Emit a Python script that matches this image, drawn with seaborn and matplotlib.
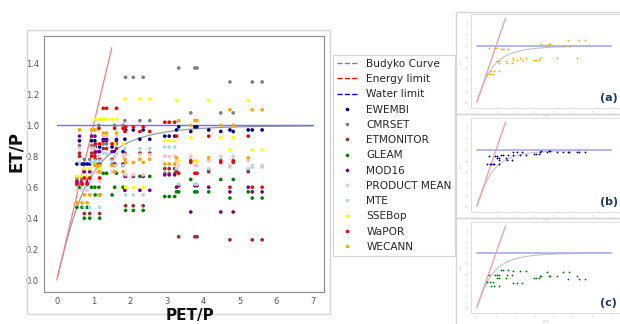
import numpy as np
import pandas as pd
import matplotlib
matplotlib.use("Agg")
import matplotlib.pyplot as plt
import seaborn as sns
from matplotlib.lines import Line2D
from matplotlib.patches import Rectangle
from matplotlib import font_manager

# ---------------- data ----------------
products = ["EWEMBI", "CMRSET", "ETMONITOR", "GLEAM", "MOD16",
            "PRODUCT MEAN", "MTE", "SSEBop", "WaPOR", "WECANN"]
colors = ["darkblue", "gray", "brown", "green", "purple",
          "pink", "lightblue", "yellow", "red", "orange"]

# PET/P of basin groups (three basins per group)
group_pet = [
    [0.55, 0.69, 0.83], [0.62, 0.95, 1.04], [0.75, 0.90, 1.17],
    [1.27, 1.36, 1.63], [1.05, 1.17, 1.51], [1.88, 2.09, 2.36],
    [1.86, 2.27, 2.54], [1.15, 1.58, 1.81], [2.95, 3.07, 3.22],
    [3.33, 3.77, 3.83], [3.27, 4.15, 5.23], [3.66, 4.48, 4.82],
    [4.73, 5.34, 5.61],
]

# ET/P per product for each basin group
et_ewembi = [0.75, 0.90, 0.75, 0.91, 0.86, 0.97, 0.91, 0.83, 0.93, 0.99, 0.97, 0.96, 0.97]
et_cmrset = [0.66, 0.87, 0.78, 0.88, 0.75, 1.31, 1.03, 1.00, 0.69, 1.37, 0.71, 1.08, 1.28]
et_etmonitor = [0.64, 0.82, 0.43, 0.85, 0.78, 0.48, 0.82, 0.74, 0.72, 0.28, 0.70, 0.76, 0.26]
et_gleam = [0.47, 0.60, 0.40, 0.69, 0.55, 0.45, 0.67, 0.60, 0.54, 0.57, 0.57, 0.65, 0.53]
et_mod16 = [0.63, 0.93, 0.70, 0.90, 0.83, 0.67, 0.58, 0.75, 0.68, 0.61, 0.60, 0.44, 0.57]
et_mean = [0.58, 0.85, 0.64, 0.93, 0.70, 0.68, 0.81, 0.80, 0.80, 0.74, 0.77, 0.80, 0.74]
et_mte = [0.61, 0.76, 0.47, 0.82, 0.77, 0.55, 0.85, 0.74, 0.86, 0.62, 0.72, 0.78, 0.73]
et_ssebop = [0.67, 0.97, 0.72, 1.04, 1.04, 0.60, 1.17, 0.88, 0.90, 0.77, 1.16, 0.92, 0.84]
et_wapor = [0.62, 0.80, 0.66, 1.11, 0.88, 0.99, 0.96, 0.98, 1.02, 0.69, 0.93, 0.77, 0.60]
et_wecann = [0.50, 0.97, 0.55, 0.95, 0.74, 0.76, 0.78, 0.70, 0.75, 1.03, 0.79, 1.00, 1.10]

et_values = [et_ewembi, et_cmrset, et_etmonitor, et_gleam, et_mod16,
             et_mean, et_mte, et_ssebop, et_wapor, et_wecann]

energy_x = [0.0, 1.5]
water_x = [0.0, 7.0]
water_level = 1.0
x_ticks = [0, 1, 2, 3, 4, 5, 6, 7]
y_ticks = [0.0, 0.2, 0.4, 0.6, 0.8, 1.0, 1.2, 1.4]

rows = []
for prod, vals in zip(products, et_values):
    for pets, v in zip(group_pet, vals):
        for p in pets:
            rows.append((prod, p, v))
df = pd.DataFrame(rows, columns=["product", "PET/P", "ET/P"])
palette = dict(zip(products, colors))

# Budyko theoretical curve
phi = np.linspace(0.02, 7, 400)
budyko = np.sqrt(phi * np.tanh(1 / phi) * (1 - np.exp(-phi)))

# ---------------- figure ----------------
sns.set_style("white")
plt.rcParams["font.family"] = ["DejaVu Sans"]
installed = {f.name for f in font_manager.fontManager.ttflist}
tick_family = "Liberation Sans Narrow" if "Liberation Sans Narrow" in installed else "DejaVu Sans"

W, H = 620, 324
fig = plt.figure(figsize=(W / 100, H / 100), dpi=100)


def fr(x0, y0, x1, y1):
    return [x0 / W, 1 - y1 / H, (x1 - x0) / W, (y1 - y0) / H]


def frame(x0, y0, x1, y1, ec="#d6d6d6"):
    r = Rectangle((x0 / W, 1 - y1 / H), (x1 - x0) / W, (y1 - y0) / H,
                  transform=fig.transFigure, fill=False, ec=ec, lw=1)
    fig.patches.append(r)


frame(27, 30, 330, 314)
frame(456, 12, 621, 114)
frame(456, 114, 621, 218)
frame(456, 218, 621, 325)

# main axes
ax = fig.add_axes(fr(44, 36, 324, 292))
ax.plot(phi, budyko, color="#999999", lw=0.9, zorder=3)
ax.plot(energy_x, energy_x, color="#ff7a7a", lw=0.9, zorder=3)
ax.plot(water_x, [water_level] * 2, color="#6f6fff", lw=1.0, zorder=3)
sns.scatterplot(data=df, x="PET/P", y="ET/P", hue="product", palette=palette,
                hue_order=products, s=7, linewidth=0, legend=False, ax=ax, zorder=4)
ax.set_xlim(-0.35, 7.3)
ax.set_ylim(-0.077, 1.577)
ax.set_xticks(x_ticks)
ax.set_yticks(y_ticks)
ax.set_yticklabels([f"{t:.1f}" for t in y_ticks])
ax.tick_params(labelsize=6, colors="#555555", length=2.5, width=0.6, pad=1.2)
for lab in ax.get_xticklabels() + ax.get_yticklabels():
    lab.set_family(tick_family)
for s in ax.spines.values():
    s.set_color("#8c8c8c")
    s.set_linewidth(0.8)
ax.set_xlabel("")
ax.set_ylabel("")
fig.text(16 / W, 1 - 152 / H, "ET/P", rotation=90, fontsize=12, fontweight="bold",
         ha="center", va="center", color="#111111")
fig.text(190 / W, 0.002, "PET/P", fontsize=11, fontweight="bold",
         ha="center", va="bottom", color="#111111")

# legend
handles = [
    Line2D([0], [0], color="gray", ls="--", lw=1),
    Line2D([0], [0], color="red", ls="--", lw=1),
    Line2D([0], [0], color="blue", ls="--", lw=1),
]
labels = ["Budyko Curve", "Energy limit", "Water limit"]
for prod, c in zip(products, colors):
    handles.append(Line2D([0], [0], marker="o", ls="None", markerfacecolor=c,
                          markeredgewidth=0, markersize=2.6))
    labels.append(prod)
leg = fig.legend(handles, labels, loc="upper left",
                 bbox_to_anchor=(333 / W, 1 - 55 / H), fontsize=7.6,
                 frameon=True, fancybox=False, edgecolor="#cccccc",
                 borderaxespad=0, labelspacing=0.5, handlelength=2.0,
                 handletextpad=0.8, borderpad=0.35)
leg.get_frame().set_linewidth(0.8)


def small_panel(y_top, y_bot, idx, tag):
    a = fig.add_axes(fr(471, y_top, 621, y_bot))
    a.plot(phi, budyko, color="#c4c4c4", lw=0.8)
    a.plot(energy_x, energy_x, color="#f5a0a0", lw=1.0)
    a.plot(water_x, [water_level] * 2, color="#b4b4f0", lw=1.4)
    sub = df[df["product"] == products[idx]]
    sns.scatterplot(data=sub, x="PET/P", y="ET/P", color=colors[idx], s=1.8,
                    linewidth=0, legend=False, ax=a, zorder=4)
    a.set_xlim(-0.3, 7.5)
    a.set_ylim(-0.1, 1.57)
    a.set_xticks(x_ticks)
    a.set_yticks(y_ticks)
    a.set_xticklabels([str(t) for t in x_ticks])
    a.set_yticklabels([f"{t:.1f}" for t in y_ticks])
    a.tick_params(labelsize=1.8, colors="#c8c8c8", length=1.2, width=0.4, pad=0.5)
    a.set_xlabel("PET/P", fontsize=1.8, color="#c8c8c8", labelpad=0.3)
    a.set_ylabel("ET/P", fontsize=1.8, color="#c8c8c8", labelpad=0.5)
    for s in a.spines.values():
        s.set_color("#dcdcdc")
        s.set_linewidth(0.7)
    fig.text(600 / W, 1 - (y_bot - 10) / H, tag, fontsize=8, fontweight="bold",
             color="#1f3864", ha="left", va="center")


small_panel(14, 108, products.index("WECANN"), "(a)")
small_panel(118, 212, products.index("EWEMBI"), "(b)")
small_panel(222, 313, products.index("GLEAM"), "(c)")

fig.savefig("out.png", dpi=100)
